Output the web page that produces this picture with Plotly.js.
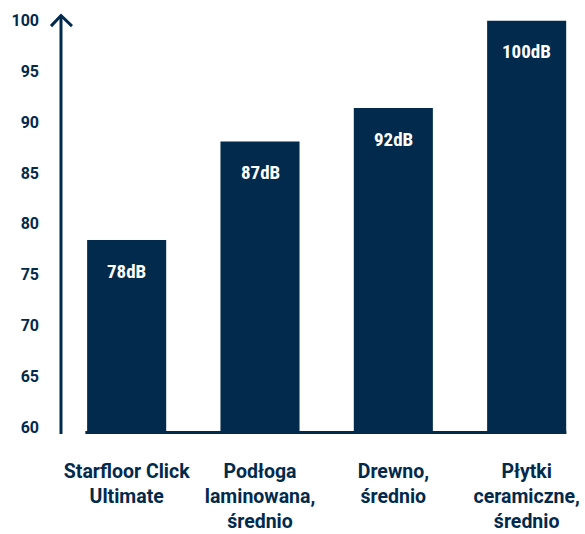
<!DOCTYPE html>
<html>
<head>
<meta charset="utf-8">
<script src="https://cdn.plot.ly/plotly-3.0.1.min.js"></script>
<style>html,body{margin:0;padding:0;background:#fff;}#chart{width:585px;height:534px;}</style>
</head>
<body>
<div id="chart"></div>
<script>
const categories = ["Starfloor Click<br>Ultimate", "Podłoga<br>laminowana,<br>średnio", "Drewno,<br>średnio", "Płytki<br>ceramiczne,<br>średnio"];
const values = [78.4, 88.1, 91.4, 100];
const barLabels = ["78dB", "87dB", "92dB", "100dB"];
const yTickVals = [60, 65, 70, 75, 80, 85, 90, 95, 100];

const NAVY = "#022a4c";

const trace = {
  type: "bar",
  x: categories,
  y: values,
  width: 0.593,
  marker: {color: NAVY, line: {width: 0}},
  hoverinfo: "skip"
};

const annotations = categories.map((c, i) => ({
  x: c, y: values[i], xref: "x", yref: "y",
  text: barLabels[i], showarrow: false,
  yanchor: "middle", yshift: -31,
  font: {family: "Roboto Condensed, Roboto, sans-serif", size: 19, color: "#ffffff", weight: "bold"}
}));

const shapes = [
  {type: "line", xref: "x", yref: "paper", x0: -0.31, x1: 3.297, y0: 0.0035, y1: 0.0035, line: {color: NAVY, width: 3}},
  {type: "line", xref: "paper", yref: "paper", x0: 0.0019, x1: 0.0019, y0: 0, y1: 0.987, line: {color: NAVY, width: 3}},
  {type: "path", xref: "paper", yref: "paper", path: "M -0.0173 0.962 L 0.0019 0.987 L 0.023 0.962", line: {color: NAVY, width: 3}}
];

const layout = {
  width: 585, height: 534,
  margin: {l: 60, r: 5, t: 10, b: 100},
  paper_bgcolor: "#ffffff", plot_bgcolor: "#ffffff",
  showlegend: false,
  font: {family: "Roboto, sans-serif", color: NAVY},
  xaxis: {
    type: "category", range: [-0.5, 3.4],
    showline: false, showgrid: false, zeroline: false, ticks: "",
    tickfont: {family: "Roboto, sans-serif", size: 19.5, color: NAVY, weight: "bold"},
    ticklabelstandoff: 23
  },
  yaxis: {
    range: [59.311, 101.05],
    tickvals: yTickVals, ticktext: yTickVals.map(String),
    showline: false, showgrid: false, zeroline: false, ticks: "",
    tickfont: {family: "Roboto, sans-serif", size: 16, color: NAVY, weight: "bold"},
    ticklabelstandoff: 20
  },
  shapes: shapes,
  annotations: annotations,
  bargap: 0.4
};

Plotly.newPlot("chart", [trace], layout, {displayModeBar: false, staticPlot: true});
</script>
</body>
</html>
